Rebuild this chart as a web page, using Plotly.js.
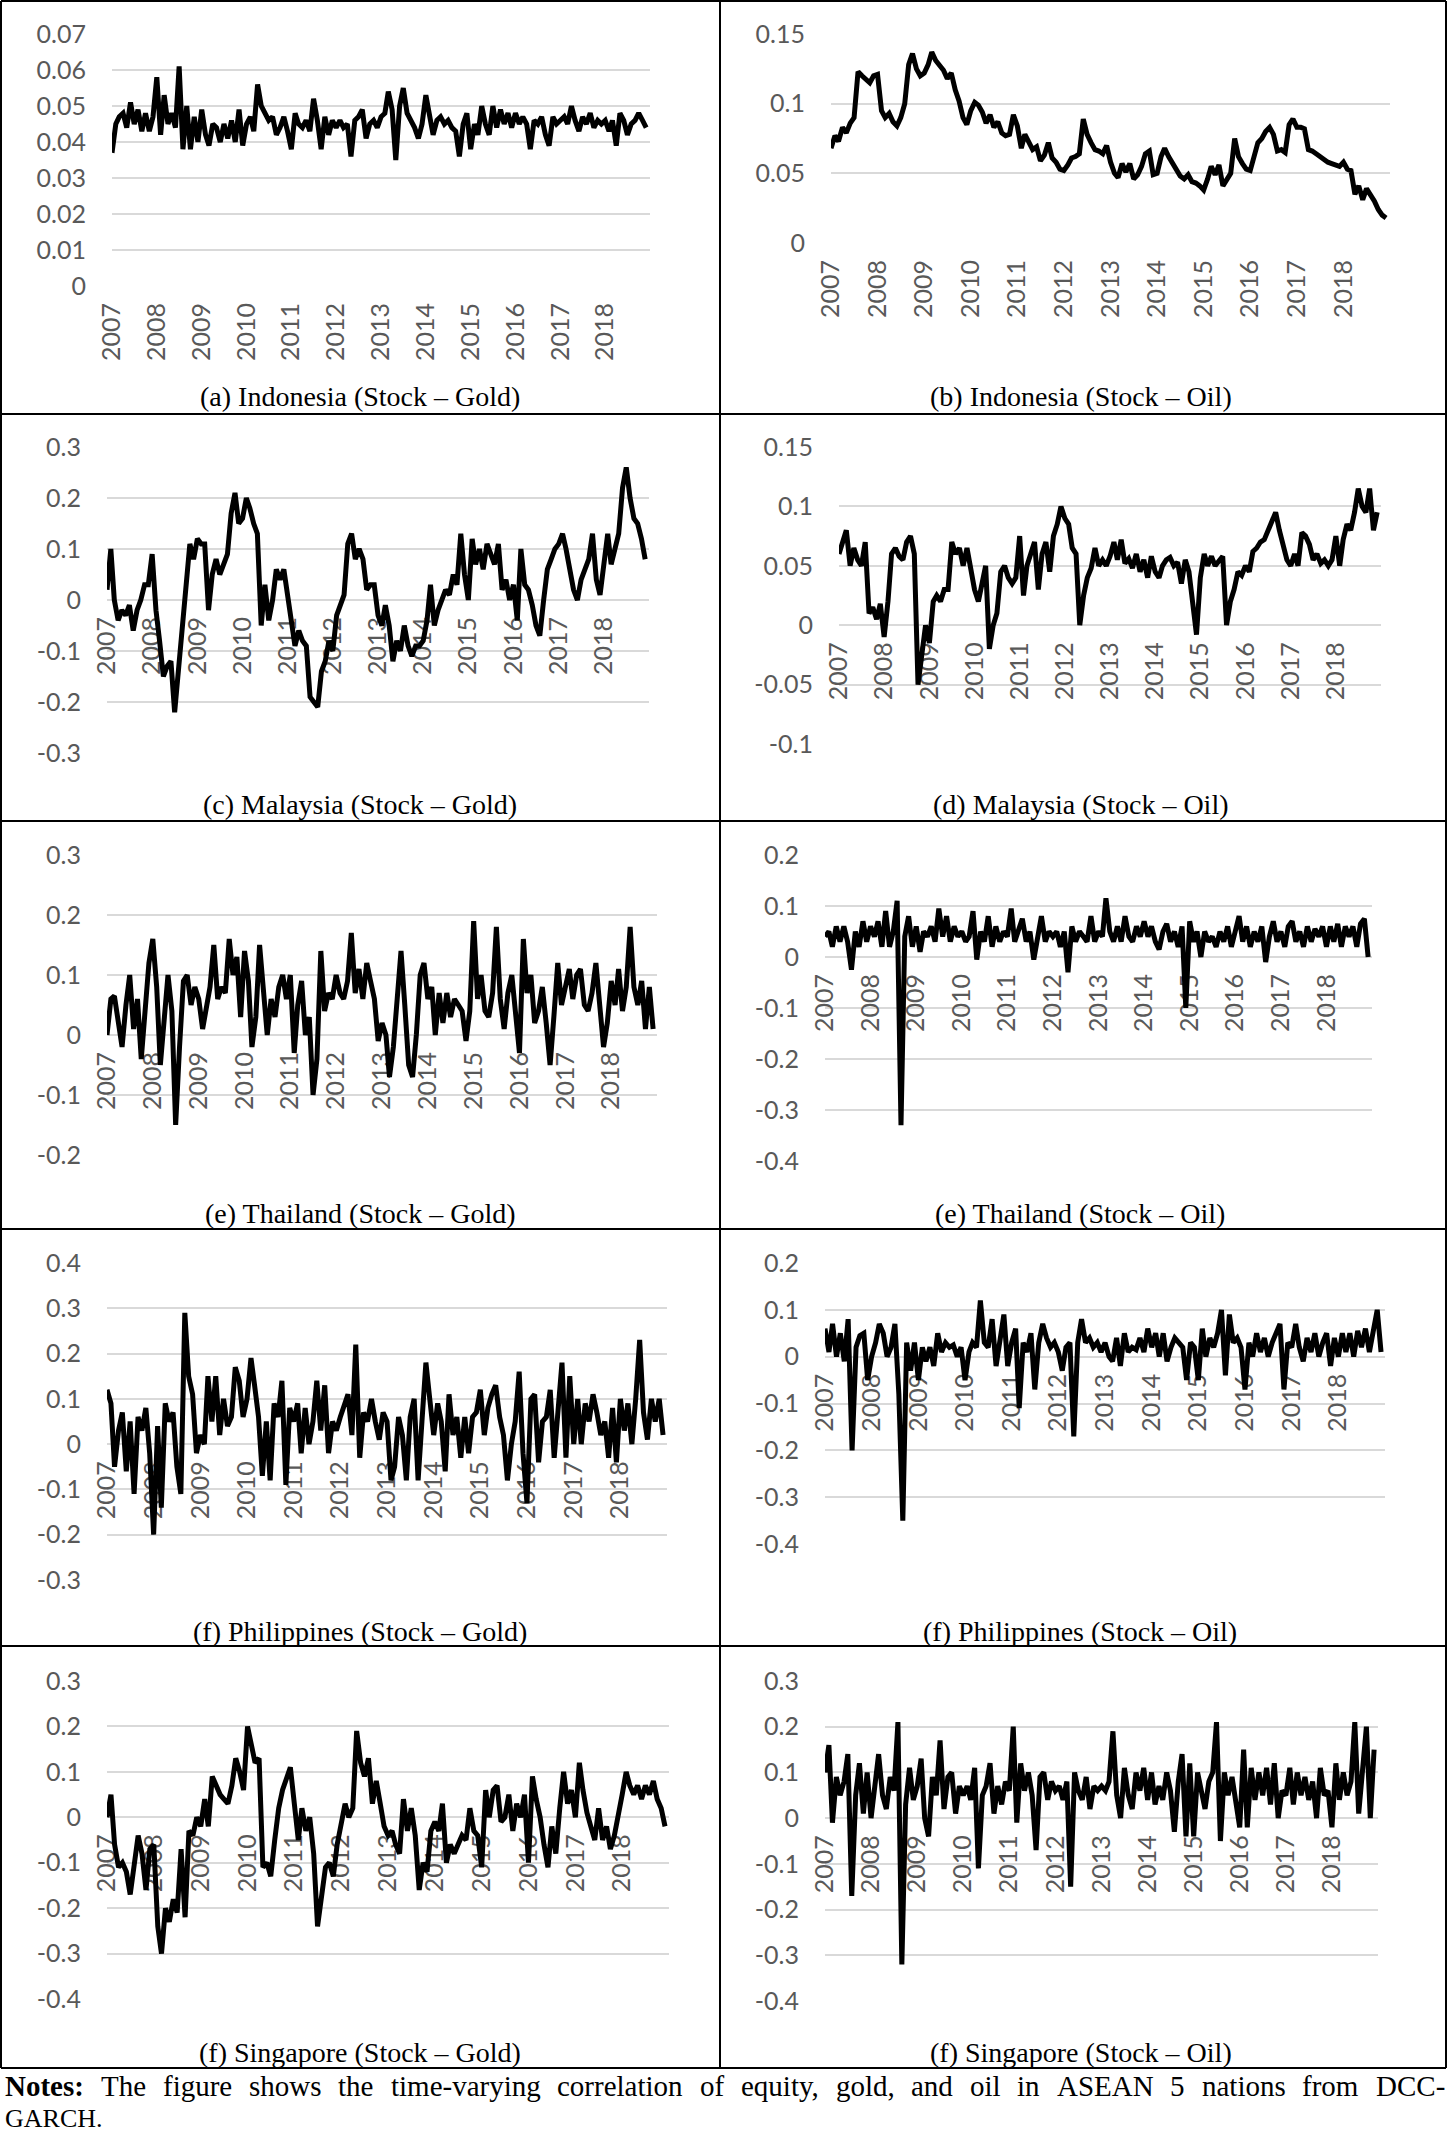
<!DOCTYPE html>
<html>
<head>
<meta charset="utf-8">
<script src="https://cdn.plot.ly/plotly-3.0.1.min.js"></script>
<style>
  html, body { margin: 0; padding: 0; background: #fff; }
  #chart { width: 1448px; height: 2133px; }
</style>
</head>
<body>
<div id="chart"></div>
<script>
const W = 1448, H = 2133;

const yearLabels = ['2007', '2008', '2009', '2010', '2011', '2012', '2013', '2014', '2015', '2016', '2017', '2018'];
const yearTicks = yearLabels.map(y => y + '-01-01');

// one value per month, Jan 2007 .. Dec 2018
const months = [];
yearLabels.forEach(y => {
  for (let m = 1; m <= 12; m++) months.push(y + '-' + String(m).padStart(2, '0') + '-01');
});

const idnGold = [
  0.037, 0.045, 0.047, 0.048, 0.044, 0.051, 0.045, 0.049, 0.043, 0.048, 0.043, 0.047,
  0.058, 0.042, 0.053, 0.045, 0.048, 0.044, 0.061, 0.038, 0.050, 0.038, 0.047, 0.040,
  0.049, 0.042, 0.039, 0.045, 0.044, 0.040, 0.045, 0.041, 0.046, 0.040, 0.049, 0.039,
  0.045, 0.047, 0.043, 0.056, 0.050, 0.048, 0.046, 0.047, 0.042, 0.044, 0.047, 0.043,
  0.038, 0.048, 0.045, 0.044, 0.046, 0.043, 0.052, 0.046, 0.038, 0.047, 0.042, 0.046,
  0.044, 0.046, 0.044, 0.045, 0.036, 0.046, 0.047, 0.049, 0.041, 0.045, 0.046, 0.044,
  0.047, 0.048, 0.054, 0.049, 0.035, 0.050, 0.055, 0.048, 0.046, 0.044, 0.041, 0.045,
  0.053, 0.046, 0.042, 0.046, 0.047, 0.045, 0.046, 0.044, 0.043, 0.036, 0.045, 0.048,
  0.038, 0.045, 0.042, 0.050, 0.045, 0.042, 0.050, 0.044, 0.049, 0.045, 0.048, 0.044,
  0.048, 0.045, 0.047, 0.045, 0.038, 0.046, 0.045, 0.047, 0.042, 0.039, 0.047, 0.045,
  0.046, 0.047, 0.045, 0.050, 0.046, 0.043, 0.047, 0.045, 0.048, 0.044, 0.046, 0.045,
  0.046, 0.043, 0.046, 0.039, 0.048, 0.046, 0.042, 0.045, 0.046, 0.048, 0.046, 0.044
];

const idnOil = [
  0.068, 0.077, 0.073, 0.083, 0.079, 0.086, 0.090, 0.123, 0.120, 0.118, 0.115, 0.120,
  0.121, 0.095, 0.090, 0.093, 0.087, 0.084, 0.090, 0.100, 0.128, 0.136, 0.125, 0.120,
  0.122, 0.128, 0.137, 0.131, 0.128, 0.124, 0.118, 0.122, 0.110, 0.102, 0.090, 0.085,
  0.095, 0.101, 0.099, 0.094, 0.086, 0.092, 0.083, 0.087, 0.079, 0.077, 0.078, 0.092,
  0.084, 0.068, 0.078, 0.073, 0.067, 0.069, 0.059, 0.063, 0.072, 0.061, 0.058, 0.053,
  0.052, 0.056, 0.061, 0.062, 0.064, 0.089, 0.078, 0.072, 0.067, 0.066, 0.064, 0.070,
  0.058, 0.050, 0.047, 0.057, 0.051, 0.057, 0.046, 0.049, 0.055, 0.064, 0.066, 0.049,
  0.050, 0.062, 0.068, 0.062, 0.057, 0.052, 0.048, 0.046, 0.049, 0.044, 0.043, 0.041,
  0.038, 0.046, 0.055, 0.049, 0.056, 0.041, 0.045, 0.050, 0.075, 0.062, 0.057, 0.053,
  0.052, 0.063, 0.072, 0.075, 0.080, 0.083, 0.078, 0.066, 0.067, 0.065, 0.085, 0.089,
  0.083, 0.083, 0.082, 0.067, 0.066, 0.064, 0.062, 0.060, 0.058, 0.057, 0.056, 0.055,
  0.058, 0.053, 0.052, 0.035, 0.041, 0.031, 0.039, 0.035, 0.030, 0.024, 0.020, 0.018
];

const myGold = [
  0.02, 0.10, 0.00, -0.04, -0.02, -0.03, -0.01, -0.06, -0.02, 0.00, 0.03, 0.03,
  0.09, -0.02, -0.08, -0.15, -0.13, -0.12, -0.22, -0.13, -0.04, 0.04, 0.11, 0.08,
  0.12, 0.11, 0.11, -0.02, 0.05, 0.08, 0.05, 0.07, 0.09, 0.17, 0.21, 0.15,
  0.16, 0.20, 0.18, 0.15, 0.13, -0.05, 0.03, -0.04, 0.00, 0.06, 0.04, 0.06,
  0.01, -0.05, -0.09, -0.06, -0.08, -0.09, -0.19, -0.20, -0.21, -0.14, -0.12, -0.08,
  -0.10, -0.03, -0.01, 0.01, 0.11, 0.13, 0.08, 0.10, 0.08, 0.02, 0.03, 0.03,
  -0.03, -0.05, -0.01, -0.05, -0.12, -0.08, -0.10, -0.05, -0.09, -0.11, -0.09, -0.09,
  -0.08, -0.04, 0.03, -0.05, -0.02, 0.00, 0.02, 0.01, 0.05, 0.03, 0.13, 0.05,
  0.00, 0.12, 0.07, 0.10, 0.06, 0.11, 0.09, 0.07, 0.11, 0.02, 0.04, 0.00,
  0.03, -0.04, 0.10, 0.03, 0.02, -0.01, -0.05, -0.07, 0.00, 0.06, 0.08, 0.10,
  0.11, 0.13, 0.10, 0.06, 0.02, 0.00, 0.04, 0.06, 0.08, 0.13, 0.04, 0.01,
  0.08, 0.13, 0.07, 0.10, 0.13, 0.22, 0.26, 0.20, 0.16, 0.15, 0.12, 0.08
];

const myOil = [
  0.060, 0.070, 0.080, 0.050, 0.065, 0.055, 0.050, 0.070, 0.010, 0.015, 0.005, 0.018,
  -0.010, 0.020, 0.060, 0.065, 0.058, 0.055, 0.070, 0.075, 0.060, -0.050, -0.020, 0.000,
  -0.015, 0.020, 0.025, 0.020, 0.030, 0.030, 0.070, 0.060, 0.065, 0.050, 0.065, 0.050,
  0.030, 0.020, 0.035, 0.050, -0.020, 0.000, 0.010, 0.045, 0.050, 0.040, 0.035, 0.040,
  0.075, 0.025, 0.050, 0.060, 0.070, 0.030, 0.060, 0.070, 0.045, 0.075, 0.085, 0.100,
  0.090, 0.085, 0.065, 0.060, 0.000, 0.025, 0.040, 0.048, 0.065, 0.050, 0.055, 0.050,
  0.058, 0.070, 0.055, 0.072, 0.052, 0.056, 0.048, 0.060, 0.045, 0.055, 0.040, 0.058,
  0.045, 0.040, 0.050, 0.055, 0.057, 0.050, 0.053, 0.035, 0.055, 0.045, 0.020, -0.008,
  0.040, 0.060, 0.050, 0.058, 0.050, 0.055, 0.058, 0.000, 0.020, 0.030, 0.045, 0.042,
  0.050, 0.045, 0.062, 0.065, 0.070, 0.072, 0.080, 0.088, 0.095, 0.080, 0.065, 0.055,
  0.050, 0.060, 0.050, 0.078, 0.075, 0.068, 0.055, 0.060, 0.052, 0.055, 0.050, 0.055,
  0.075, 0.050, 0.072, 0.085, 0.080, 0.095, 0.115, 0.100, 0.095, 0.115, 0.080, 0.095
];

const thGold = [
  0.00, 0.06, 0.065, 0.02, -0.02, 0.05, 0.10, 0.01, 0.06, -0.04, 0.05, 0.12,
  0.16, 0.08, -0.05, 0.02, 0.10, 0.04, -0.15, -0.02, 0.09, 0.10, 0.05, 0.08,
  0.06, 0.01, 0.05, 0.08, 0.15, 0.06, 0.08, 0.07, 0.16, 0.10, 0.13, 0.03,
  0.14, 0.09, -0.02, 0.03, 0.15, 0.06, 0.00, 0.06, 0.03, 0.08, 0.10, 0.06,
  0.10, -0.03, 0.05, 0.09, 0.00, 0.03, -0.10, -0.04, 0.14, 0.04, 0.07, 0.06,
  0.10, 0.07, 0.06, 0.09, 0.17, 0.07, 0.11, 0.06, 0.12, 0.09, 0.06, -0.01,
  0.02, 0.00, -0.07, -0.02, 0.05, 0.14, 0.05, -0.05, -0.07, 0.00, 0.10, 0.12,
  0.06, 0.08, 0.00, 0.07, 0.02, 0.07, 0.03, 0.06, 0.05, 0.04, -0.01, 0.04,
  0.19, 0.06, 0.10, 0.04, 0.03, 0.07, 0.18, 0.06, 0.01, 0.07, 0.10, 0.04,
  -0.03, 0.16, 0.07, 0.10, 0.02, 0.04, 0.08, 0.02, -0.05, 0.03, 0.12, 0.05,
  0.08, 0.11, 0.06, 0.10, 0.11, 0.05, 0.04, 0.07, 0.12, 0.06, -0.02, 0.02,
  0.09, 0.05, 0.11, 0.04, 0.08, 0.18, 0.08, 0.05, 0.09, 0.01, 0.08, 0.01
];

const thOil = [
  0.04, 0.05, 0.02, 0.06, 0.03, 0.06, 0.03, -0.025, 0.05, 0.02, 0.07, 0.03,
  0.06, 0.04, 0.07, 0.02, 0.09, 0.02, 0.05, 0.11, -0.33, 0.04, 0.08, 0.02,
  0.06, 0.01, 0.05, 0.04, 0.06, 0.03, 0.095, 0.04, 0.08, 0.03, 0.06, 0.04,
  0.05, 0.03, 0.04, 0.09, -0.005, 0.05, 0.03, 0.08, 0.02, 0.06, 0.03, 0.05,
  0.04, 0.095, 0.03, 0.05, 0.075, 0.03, 0.05, -0.005, 0.04, 0.08, 0.03, 0.05,
  0.04, 0.05, 0.02, 0.05, -0.03, 0.06, 0.03, 0.05, 0.04, 0.03, 0.08, 0.03,
  0.05, 0.04, 0.115, 0.05, 0.03, 0.06, 0.03, 0.08, 0.04, 0.03, 0.06, 0.04,
  0.07, 0.04, 0.06, 0.03, 0.015, 0.05, 0.065, 0.03, 0.05, 0.02, 0.06, -0.10,
  0.07, 0.03, 0.05, 0.00, 0.05, 0.03, 0.04, 0.02, 0.05, 0.03, 0.06, 0.02,
  0.05, 0.08, 0.03, 0.06, 0.02, 0.05, 0.03, 0.06, -0.01, 0.04, 0.07, 0.03,
  0.05, 0.02, 0.06, 0.07, 0.03, 0.05, 0.02, 0.06, 0.03, 0.055, 0.04, 0.06,
  0.02, 0.06, 0.03, 0.065, 0.02, 0.06, 0.04, 0.06, 0.02, 0.065, 0.075, 0.00
];

const phGold = [
  0.12, 0.09, -0.05, 0.03, 0.07, -0.06, 0.05, -0.11, 0.06, 0.03, 0.08, -0.02,
  -0.20, 0.04, -0.14, 0.09, 0.05, 0.07, -0.05, -0.11, 0.29, 0.15, 0.11, -0.02,
  0.02, 0.00, 0.15, 0.05, 0.15, 0.02, 0.10, 0.04, 0.06, 0.17, 0.14, 0.06,
  0.10, 0.19, 0.13, 0.06, -0.07, 0.05, -0.08, 0.09, 0.06, 0.14, -0.09, 0.08,
  0.05, 0.09, -0.02, 0.08, 0.00, 0.05, 0.14, 0.03, 0.13, -0.02, 0.05, 0.03,
  0.06, 0.09, 0.11, 0.02, 0.22, -0.03, 0.07, 0.05, 0.10, 0.05, 0.01, 0.07,
  0.05, -0.08, -0.05, 0.06, 0.02, -0.08, 0.06, 0.10, -0.08, 0.05, 0.18, 0.10,
  0.02, 0.09, 0.05, -0.06, 0.11, 0.02, 0.06, -0.03, 0.06, -0.02, 0.06, 0.07,
  0.12, 0.02, 0.08, 0.11, 0.13, 0.06, 0.02, -0.08, 0.00, 0.05, 0.16, -0.02,
  -0.13, 0.10, 0.11, -0.04, 0.05, 0.06, 0.12, -0.03, 0.07, 0.18, -0.03, 0.15,
  0.00, 0.10, 0.00, 0.09, 0.05, 0.11, 0.07, 0.02, 0.05, -0.03, 0.08, -0.04,
  0.10, 0.03, 0.09, 0.00, 0.10, 0.23, 0.07, 0.01, 0.10, 0.05, 0.10, 0.02
];

const phOil = [
  0.06, 0.01, 0.07, 0.00, 0.05, -0.01, 0.08, -0.20, 0.02, 0.045, 0.05, -0.05,
  0.00, 0.03, 0.07, 0.05, 0.00, 0.02, 0.07, -0.08, -0.35, 0.03, -0.03, 0.03,
  -0.05, 0.02, -0.01, 0.02, -0.02, 0.05, 0.01, 0.03, 0.02, 0.025, 0.00, 0.02,
  -0.05, 0.01, 0.03, 0.02, 0.12, 0.03, 0.02, 0.08, -0.02, 0.03, 0.09, -0.02,
  0.03, 0.06, -0.11, 0.03, 0.01, 0.05, -0.07, 0.03, 0.07, 0.04, 0.02, 0.03,
  0.01, -0.03, 0.02, 0.03, -0.17, 0.03, 0.08, 0.03, 0.04, 0.02, 0.03, 0.01,
  0.03, 0.00, -0.01, 0.04, -0.02, 0.05, 0.01, 0.02, 0.015, 0.04, 0.01, 0.06,
  0.02, 0.05, 0.00, 0.05, -0.01, 0.02, 0.04, 0.03, 0.02, -0.05, 0.03, 0.02,
  -0.05, 0.06, 0.00, 0.04, 0.02, 0.05, 0.10, -0.04, 0.09, 0.03, 0.04, 0.02,
  -0.07, 0.03, 0.00, 0.05, 0.01, 0.04, 0.00, 0.03, 0.05, 0.07, -0.07, 0.03,
  0.02, 0.07, 0.02, -0.01, 0.04, 0.01, 0.05, 0.00, 0.03, 0.05, -0.02, 0.04,
  0.00, 0.05, 0.01, 0.05, 0.00, 0.055, 0.02, 0.06, 0.01, 0.05, 0.10, 0.01
];

const sgGold = [
  0.00, 0.05, -0.06, -0.11, -0.10, -0.12, -0.17, -0.11, -0.04, -0.08, -0.16, -0.07,
  -0.06, -0.24, -0.30, -0.20, -0.23, -0.18, -0.21, -0.07, -0.22, -0.03, -0.04, 0.00,
  -0.02, 0.04, -0.02, 0.09, 0.07, 0.05, 0.04, 0.03, 0.07, 0.13, 0.10, 0.06,
  0.20, 0.15, 0.12, 0.13, -0.11, -0.10, -0.13, -0.05, 0.02, 0.06, 0.09, 0.11,
  0.03, -0.05, 0.02, -0.03, 0.00, -0.08, -0.24, -0.18, -0.11, -0.10, -0.13, -0.06,
  -0.01, 0.03, 0.00, 0.02, 0.19, 0.12, 0.09, 0.13, 0.03, 0.08, 0.03, -0.02,
  -0.04, -0.03, -0.06, -0.08, 0.04, -0.03, 0.02, -0.04, -0.16, -0.10, -0.12, -0.03,
  -0.01, -0.03, 0.03, -0.10, -0.06, -0.08, -0.06, -0.04, -0.05, 0.02, -0.03, -0.04,
  -0.11, 0.06, 0.00, 0.06, 0.07, -0.01, 0.00, 0.05, -0.03, 0.03, 0.00, 0.05,
  -0.10, 0.09, 0.04, 0.00, -0.06, -0.11, -0.02, -0.08, 0.02, 0.10, 0.03, 0.06,
  0.00, 0.12, 0.06, 0.01, -0.02, -0.05, 0.02, -0.05, -0.02, -0.07, -0.04, 0.00,
  0.05, 0.10, 0.07, 0.05, 0.07, 0.04, 0.07, 0.05, 0.08, 0.04, 0.02, -0.02
];

const sgOil = [
  0.10, 0.16, -0.01, 0.09, 0.05, 0.08, 0.14, -0.17, 0.05, 0.12, 0.01, 0.10,
  0.00, 0.08, 0.14, 0.05, 0.02, 0.09, 0.06, 0.21, -0.32, 0.03, 0.11, 0.04,
  0.07, 0.13, 0.00, -0.04, 0.09, 0.05, 0.17, 0.02, 0.09, 0.10, 0.01, 0.07,
  0.05, 0.07, 0.04, 0.11, -0.11, 0.05, 0.07, 0.12, 0.01, 0.07, 0.03, 0.08,
  0.06, 0.20, -0.01, 0.12, 0.06, 0.10, 0.05, -0.07, 0.09, 0.10, 0.04, 0.08,
  0.06, 0.07, 0.04, 0.08, -0.15, 0.10, 0.06, 0.04, 0.09, 0.02, 0.07, 0.06,
  0.07, 0.06, 0.08, 0.19, 0.05, 0.00, 0.11, 0.05, 0.02, 0.10, 0.06, 0.11,
  0.04, 0.10, 0.03, 0.07, 0.04, 0.10, 0.06, -0.03, 0.08, 0.14, -0.04, 0.12,
  -0.04, 0.10, 0.06, 0.02, 0.08, 0.10, 0.21, -0.05, 0.10, 0.05, 0.09, 0.04,
  -0.02, 0.15, -0.02, 0.11, 0.04, 0.10, 0.05, 0.11, 0.03, 0.12, 0.00, 0.06,
  0.05, 0.11, 0.03, 0.10, 0.05, 0.09, 0.04, 0.08, 0.00, 0.11, 0.05, 0.06,
  -0.02, 0.12, 0.04, 0.10, 0.05, 0.08, 0.21, 0.01, 0.10, 0.20, 0.00, 0.15
];

const captions = [
  '(a) Indonesia (Stock – Gold)', '(b) Indonesia (Stock – Oil)',
  '(c) Malaysia (Stock – Gold)', '(d) Malaysia (Stock – Oil)',
  '(e) Thailand (Stock – Gold)', '(e) Thailand (Stock – Oil)',
  '(f) Philippines (Stock – Gold)', '(f) Philippines (Stock – Oil)',
  '(f) Singapore (Stock – Gold)', '(f) Singapore (Stock – Oil)'
];

const notesLine1 = 'The figure shows the time-varying correlation of equity, gold, and oil in ASEAN 5 nations from DCC-';
const notesLine2 = 'GARCH.';

// pixel boxes of each plot area in the 1448x2133 page
const panels = [
  { y: idnGold, left: 112, right: 650, top: 34,   bottom: 286,  min: 0,    max: 0.07, step: 0.01, capX: 360,  capY: 397 },
  { y: idnOil,  left: 831, right: 1390, top: 34,  bottom: 243,  min: 0,    max: 0.15, step: 0.05, capX: 1081, capY: 397 },
  { y: myGold,  left: 107, right: 649, top: 447,  bottom: 753,  min: -0.3, max: 0.3,  step: 0.1,  capX: 360,  capY: 805 },
  { y: myOil,   left: 839, right: 1381, top: 447, bottom: 744,  min: -0.1, max: 0.15, step: 0.05, capX: 1081, capY: 805 },
  { y: thGold,  left: 107, right: 657, top: 855,  bottom: 1155, min: -0.2, max: 0.3,  step: 0.1,  capX: 360,  capY: 1213 },
  { y: thOil,   left: 825, right: 1372, top: 855, bottom: 1161, min: -0.4, max: 0.2,  step: 0.1,  capX: 1080, capY: 1213 },
  { y: phGold,  left: 107, right: 667, top: 1263, bottom: 1580, min: -0.3, max: 0.4,  step: 0.1,  capX: 360,  capY: 1632 },
  { y: phOil,   left: 825, right: 1385, top: 1263, bottom: 1544, min: -0.4, max: 0.2, step: 0.1,  capX: 1080, capY: 1632 },
  { y: sgGold,  left: 107, right: 669, top: 1681, bottom: 1999, min: -0.4, max: 0.3,  step: 0.1,  capX: 360,  capY: 2052 },
  { y: sgOil,   left: 825, right: 1378, top: 1681, bottom: 2001, min: -0.4, max: 0.3, step: 0.1,  capX: 1081, capY: 2052 }
];

const tickFont = { family: 'Lato, "Open Sans", sans-serif', size: 25, color: '#595959' };
const serif = '"Liberation Serif", "Times New Roman", serif';

const traces = [];
const annotations = [];
const layout = {
  width: W, height: H,
  margin: { l: 0, r: 0, t: 0, b: 0 },
  paper_bgcolor: '#fff', plot_bgcolor: 'rgba(0,0,0,0)',
  showlegend: false
};

panels.forEach((p, i) => {
  const n = i === 0 ? '' : String(i + 1);
  traces.push({
    x: months, y: p.y, xaxis: 'x' + n, yaxis: 'y' + n,
    type: 'scatter', mode: 'lines',
    line: { color: '#000', width: 5 },
    hoverinfo: 'skip'
  });

  const zeroPx = p.top + p.max / (p.max - p.min) * (p.bottom - p.top);
  const nTicks = Math.round((p.max - p.min) / p.step);
  const yVals = [];
  for (let k = 0; k <= nTicks; k++) yVals.push(+(p.min + k * p.step).toFixed(3));

  layout['xaxis' + n] = {
    type: 'date', domain: [p.left / W, p.right / W],
    range: ['2007-01-01', '2019-01-01'],
    anchor: 'free', position: 1 - zeroPx / H,
    tickvals: yearTicks, ticktext: yearLabels, tickangle: -90,
    showgrid: false, zeroline: false, showline: false, ticks: '',
    ticklabelstandoff: 11, layer: 'below traces',
    tickfont: tickFont, fixedrange: true
  };
  layout['yaxis' + n] = {
    domain: [1 - p.bottom / H, 1 - p.top / H],
    range: [p.min, p.max], anchor: 'x' + n,
    tickvals: yVals, ticktext: yVals.map(v => String(v)),
    gridcolor: '#d9d9d9', gridwidth: 2,
    zeroline: false, showline: false, ticks: '',
    ticklabelstandoff: 25, tickfont: tickFont, fixedrange: true
  };

  annotations.push({
    text: captions[i], xref: 'paper', yref: 'paper',
    x: p.capX / W, y: 1 - p.capY / H, xanchor: 'center', yanchor: 'middle',
    showarrow: false, font: { family: serif, size: 28, color: '#000' }
  });
});

// notes, first line justified over the full width
const noteSize = 29;
const canvas = document.createElement('canvas');
const ctx = canvas.getContext('2d');
const words = ['Notes:'].concat(notesLine1.split(' '));
const widths = words.map((w, k) => {
  ctx.font = (k === 0 ? 'bold ' : '') + noteSize + 'px "Liberation Serif"';
  return ctx.measureText(w).width;
});
const lineLeft = 4, lineRight = 1444;
const gap = (lineRight - lineLeft - widths.reduce((a, b) => a + b, 0)) / (words.length - 1);
let cursor = lineLeft;
words.forEach((w, k) => {
  annotations.push({
    text: k === 0 ? '<b>' + w + '</b>' : w,
    xref: 'paper', yref: 'paper', x: cursor / W, y: 1 - 2086 / H,
    xanchor: 'left', yanchor: 'middle', showarrow: false, borderpad: 0,
    font: { family: serif, size: noteSize, color: '#000' }
  });
  cursor += widths[k] + gap;
});
annotations.push({
  text: notesLine2, xref: 'paper', yref: 'paper', x: lineLeft / W, y: 1 - 2118 / H,
  xanchor: 'left', yanchor: 'middle', showarrow: false, borderpad: 0,
  font: { family: serif, size: 26, color: '#000' }
});
layout.annotations = annotations;

// panel borders
const border = { color: '#000', width: 2 };
function hline(py) {
  return { type: 'line', xref: 'paper', yref: 'paper', x0: 1 / W, x1: 1446 / W, y0: 1 - py / H, y1: 1 - py / H, line: border };
}
function vline(px) {
  return { type: 'line', xref: 'paper', yref: 'paper', x0: px / W, x1: px / W, y0: 1 - 1 / H, y1: 1 - 2068 / H, line: border };
}
layout.shapes = [
  hline(1), hline(414), hline(821), hline(1229), hline(1646), hline(2068),
  vline(1), vline(720), vline(1446)
];

Plotly.newPlot('chart', traces, layout, { staticPlot: true });
</script>
</body>
</html>
